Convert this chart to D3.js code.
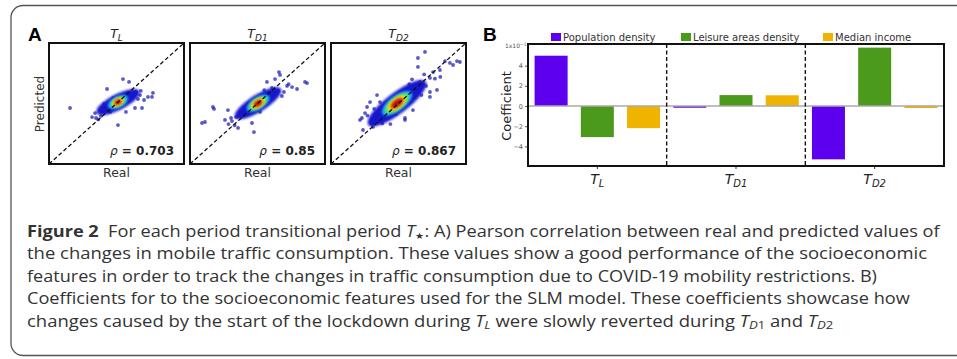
<!DOCTYPE html>
<html><head><meta charset="utf-8">
<script src="https://cdn.jsdelivr.net/npm/d3@7"></script>
<style>html,body{margin:0;padding:0;background:#fff;} svg{display:block;}</style>
</head><body><svg id="c" width="957" height="359"></svg>
<script>
// ---------------- data ----------------
const periods = ["L", "D1", "D2"];
const rhoValues = ["0.703", "0.85", "0.867"];
const features = ["Population density", "Leisure areas density", "Median income"];
const coefPopulation = [4.98, -0.17, -5.28];
const coefLeisure = [-3.08, 1.08, 5.78];
const coefIncome = [-2.19, 1.06, -0.2];
const coefTicks = [-4, -2, 0, 2, 4];
// density summaries of the real/predicted clouds (real & predicted units, 0-100)
const densityCentre = [[51.1, 51.2], [50.4, 50.2], [48.9, 50.2]];
const densityAngle = [27, 32, 37];
const densityTL = [[17.8, 5.9], [8.1, 4.1], [5.9, 3.3], [4.4, 2.6], [3.3, 2.1], [2.2, 1.5]];
const densityTD1 = [[20, 6.3], [9.6, 4.4], [7.4, 3.7], [5.6, 3.0], [4.1, 2.4], [3.0, 1.7]];
const densityTD2 = [[26.7, 7.8], [13.3, 5.6], [10.4, 4.7], [8.1, 3.7], [6.3, 3.0], [4.8, 2.2]];
// sparse points (real, predicted)
const pointsTL = [[15.6,46.3],[54.8,70.2],[43.0,62.0],[59.3,67.8],[77.0,58.7],[73.3,55.4],[76.3,55.4],[51.1,32.2],[68.9,46.3],[63.7,46.3],[64.4,59.5],[62.2,57.0],
  [31.9,38.8],[34.8,38.0],[38.5,39.7],[34.1,42.1],[40.0,44.6],[67.4,57.0],[65.9,53.7],[70.4,52.9],[61.5,56.2],[58.5,58.7],[45.2,43.0],[40.7,49.6],[57.0,43.0],[36.5,36.8],[68.0,60.5],[47.5,54.5]];
const pointsTD1 = [[17.0,47.1],[17.8,45.5],[8.9,33.9],[11.1,34.7],[25.9,36.4],[28.1,44.6],[30.4,38.0],[35.6,29.8],[47.4,26.4],[45.9,33.9],[65.9,76.0],[66.7,73.6],
  [75.6,63.6],[79.3,62.0],[85.2,67.8],[86.7,66.9],[57.0,67.8],[63.0,70.2],[71.9,64.5],[69.6,59.5],[31.1,35.5],[34.1,38.8],[38.5,39.7],[37.0,43.0],[60.7,62.8],[65.2,60.3],
  [68.1,56.2],[59.3,56.2],[51.9,43.0],[43.0,49.6],[28.5,33.0],[33.0,32.0],[73.0,66.0],[55.0,61.0]];
const pointsTD2 = [[69.6,92.6],[88.1,83.5],[93.3,85.1],[84.4,85.1],[64.4,87.6],[73.3,71.1],[80.7,77.7],[78.5,61.2],[73.3,55.4],[60.7,44.6],[54.8,38.0],[21.5,36.4],
  [26.7,47.1],[28.9,51.2],[34.1,57.0],[36.3,51.2],[23.7,28.1],[31.1,30.6],[95.5,84.3],[90.4,81.8],[64.4,80.2],[75.6,76.0],[62.2,62.8],[54.8,36.4],[22.9,38.0],[25.2,42.1],
  [30.4,33.1],[34.8,36.4],[42.2,38.0],[39.3,44.6],[65.9,67.8],[70.4,64.5],[73.3,59.5],[63.0,61.2],[58.5,52.9],[48.1,41.3],[27.0,40.0],[32.0,45.5],[69.0,74.0],[77.0,70.5],
  [60.0,70.0],[67.0,57.0],[44.0,33.0],[38.0,33.5],[81.0,72.0],[58.0,66.0]];
const densityLevels = [densityTL, densityTD1, densityTD2];
const pointSets = [pointsTL, pointsTD1, pointsTD2];

// ---------------- drawing ----------------
const svg = d3.select("#c");
const FONT = "'DejaVu Sans', sans-serif";
const defs = svg.append("defs");
defs.append("filter").attr("id", "blur2").attr("x", "-50%").attr("y", "-50%").attr("width", "200%").attr("height", "200%")
  .append("feGaussianBlur").attr("stdDeviation", 1.1);
defs.append("filter").attr("id", "blur1").attr("x", "-50%").attr("y", "-50%").attr("width", "200%").attr("height", "200%")
  .append("feGaussianBlur").attr("stdDeviation", 0.8);

// outer frame
svg.append("rect").attr("x", 11).attr("y", 5.5).attr("width", 1000).attr("height", 350)
  .attr("rx", 12).attr("fill", "none").attr("stroke", "#555").attr("stroke-width", 1.3);

// ---- Panel A ----
svg.append("text").attr("x", 28).attr("y", 41).attr("font-family", "'Liberation Sans', Arial, sans-serif")
  .attr("font-weight", "bold").attr("font-size", 19).text("A");

const lefts = [49, 190, 331], W = 135, aTop = 43, aBottom = 164;
const levelColors = ["#1818cc", "#20b8f2", "#5ee05e", "#f5e51a", "#ff7a10", "#b80c0c"];
const yA = d3.scaleLinear().domain([0, 100]).range([aBottom, aTop]);

periods.forEach((p, i) => {
  const xA = d3.scaleLinear().domain([0, 100]).range([lefts[i], lefts[i] + W]);
  const g = svg.append("g");
  const kx = (xA(100) - xA(0)) / 100;
  g.selectAll("circle.pt").data(pointSets[i]).join("circle").attr("class", "pt")
    .attr("cx", d => xA(d[0])).attr("cy", d => yA(d[1])).attr("r", 1.9)
    .attr("fill", "#2222b4").attr("fill-opacity", 0.75);
  const [cx, cy] = densityCentre[i];
  const dg = g.append("g").attr("transform", `translate(${xA(cx)},${yA(cy)}) rotate(${-densityAngle[i]})`);
  dg.selectAll("ellipse").data(densityLevels[i]).join("ellipse")
    .attr("rx", d => d[0] * kx).attr("ry", d => d[1] * kx)
    .attr("fill", (d, j) => levelColors[j])
    .attr("filter", (d, j) => j === 0 ? "url(#blur2)" : "url(#blur1)");
  g.append("line").attr("x1", xA(0)).attr("y1", yA(0)).attr("x2", xA(100)).attr("y2", yA(100))
    .attr("stroke", "#111").attr("stroke-width", 1.3).attr("stroke-dasharray", "4,2.5");
  g.append("rect").attr("x", xA(0)).attr("y", aTop).attr("width", W).attr("height", aBottom - aTop)
    .attr("fill", "none").attr("stroke", "#111").attr("stroke-width", 2);
  const t = g.append("text").attr("x", xA(50)).attr("y", 38).attr("text-anchor", "middle")
    .attr("font-family", FONT).attr("font-size", 12.5).attr("fill", "#222");
  t.append("tspan").attr("font-style", "italic").text("T");
  t.append("tspan").attr("font-style", "italic").attr("font-size", 9).attr("dy", 3).text(p);
  const r = g.append("text").attr("x", xA(100) - 10).attr("y", 155).attr("text-anchor", "end")
    .attr("font-family", FONT).attr("font-size", 12).attr("fill", "#222");
  r.append("tspan").attr("font-style", "italic").text("ρ");
  r.append("tspan").attr("font-weight", "bold").text(" = " + rhoValues[i]);
  g.append("text").attr("x", xA(50)).attr("y", 177).attr("text-anchor", "middle")
    .attr("font-family", FONT).attr("font-size", 12.5).attr("fill", "#333").text("Real");
});
svg.append("text").attr("transform", "translate(44,104) rotate(-90)").attr("text-anchor", "middle")
  .attr("font-family", FONT).attr("font-size", 12).attr("fill", "#333").text("Predicted");

// ---- Panel B ----
svg.append("text").attr("x", 483).attr("y", 41).attr("font-family", "'Liberation Sans', Arial, sans-serif")
  .attr("font-weight", "bold").attr("font-size", 19).text("B");
const bx0 = 528, bx1 = 944, by0 = 44, by1 = 166;
const featColors = ["#5c00ee", "#4c9a1c", "#efb300"];
const xB = d3.scaleBand().domain(periods).range([bx0, bx1]);
const xF = d3.scaleBand().domain(features).range([0, xB.bandwidth()]).paddingInner(0.286).paddingOuter(0.143);
const yB = d3.scaleLinear().domain([-5.94, 6.14]).range([by1, by0]);
const seriesVals = [coefPopulation, coefLeisure, coefIncome];
const barData = [];
periods.forEach((p, i) => features.forEach((f, j) => barData.push({ p, f, j, v: seriesVals[j][i] })));

const gB = svg.append("g");
gB.selectAll("rect.bar").data(barData).join("rect").attr("class", "bar")
  .attr("x", d => xB(d.p) + xF(d.f)).attr("width", xF.bandwidth())
  .attr("y", d => yB(Math.max(0, d.v))).attr("height", d => Math.abs(yB(d.v) - yB(0)))
  .attr("fill", d => featColors[d.j]);
gB.append("line").attr("x1", bx0).attr("x2", bx1).attr("y1", yB(0)).attr("y2", yB(0))
  .attr("stroke", "#aaa").attr("stroke-width", 1.5);
gB.selectAll("line.sep").data(periods.slice(1)).join("line").attr("class", "sep")
  .attr("x1", d => xB(d)).attr("x2", d => xB(d)).attr("y1", by0).attr("y2", by1)
  .attr("stroke", "#111").attr("stroke-width", 1.4).attr("stroke-dasharray", "4,2.5");
const ax = gB.append("g").attr("transform", `translate(${bx0},0)`)
  .call(d3.axisLeft(yB).tickValues(coefTicks).tickSize(3).tickPadding(2)
    .tickFormat(d => d < 0 ? "−" + Math.abs(d) : String(d)));
ax.select(".domain").remove();
ax.selectAll("text").attr("font-family", FONT).attr("font-size", 6.5).attr("fill", "#555");
ax.selectAll("line").attr("stroke", "#555");
const axx = gB.append("g").attr("transform", `translate(0,${by1})`)
  .call(d3.axisBottom(xB).tickSize(3).tickFormat(""));
axx.select(".domain").remove();
axx.selectAll("line").attr("stroke", "#333");
periods.forEach(p => {
  const t = gB.append("text").attr("x", xB(p) + xB.bandwidth() / 2).attr("y", 184).attr("text-anchor", "middle")
    .attr("font-family", FONT).attr("font-size", 14).attr("fill", "#222");
  t.append("tspan").attr("font-style", "italic").text("T");
  t.append("tspan").attr("font-style", "italic").attr("font-size", 10).attr("dy", 3).text(p);
});
gB.append("rect").attr("x", bx0).attr("y", by0).attr("width", bx1 - bx0).attr("height", by1 - by0)
  .attr("fill", "none").attr("stroke", "#111").attr("stroke-width", 2);
const mt = gB.append("text").attr("x", bx0 - 23).attr("y", 48).attr("font-family", FONT).attr("font-size", 6).attr("fill", "#555");
mt.append("tspan").text("1x10");
mt.append("tspan").attr("dy", -2).attr("font-size", 4.5).text("−1");
svg.append("text").attr("transform", "translate(511,106) rotate(-90)").attr("text-anchor", "middle")
  .attr("font-family", FONT).attr("font-size", 13).attr("fill", "#222").text("Coefficient");
const legX = [551, 681, 823];
features.forEach((f, j) => {
  svg.append("rect").attr("x", legX[j]).attr("y", 33).attr("width", 10).attr("height", 8).attr("fill", featColors[j]);
  svg.append("text").attr("x", legX[j] + 12).attr("y", 41).attr("font-family", FONT).attr("font-size", 10)
    .attr("fill", "#333").text(f);
});

// ---- Caption ----
const CF = "'Open Sans', 'Noto Sans', sans-serif";
const capLines = [
  [["b", "Figure 2"], ["n", "  For each period transitional period "], ["i", "T"], ["sub", "★"], ["n", ": A) Pearson correlation between real and predicted values of"]],
  [["n", "the changes in mobile traffic consumption. These values show a good performance of the socioeconomic"]],
  [["n", "features in order to track the changes in traffic consumption due to COVID-19 mobility restrictions. B)"]],
  [["n", "Coefficients for to the socioeconomic features used for the SLM model. These coefficients showcase how"]],
  [["n", "changes caused by the start of the lockdown during "], ["i", "T"], ["subi", "L"], ["n", " were slowly reverted during "], ["i", "T"], ["subi", "D"], ["sub", "1"], ["n", " and "], ["i", "T"], ["subi", "D"], ["sub", "2"]]
];
const capEnds = [941, 927, 877, 911, 833];
capLines.forEach((parts, k) => {
  const y = 236.5 + k * 22.5;
  const t = svg.append("text").attr("x", 0).attr("y", 0).attr("font-family", CF).attr("font-size", 16.2)
    .attr("fill", "#333").style("white-space", "pre");
  let sub = false;
  parts.forEach(([kind, txt]) => {
    const s = t.append("tspan").text(txt);
    const isSub = kind === "sub" || kind === "subi";
    if (isSub && !sub) s.attr("dy", 2.5);
    if (!isSub && sub) s.attr("dy", -2.5);
    sub = isSub;
    if (kind === "b") s.attr("font-weight", "bold");
    if (kind === "i" || kind === "subi") s.attr("font-style", "italic");
    if (isSub) s.attr("font-size", kind === "sub" && txt === "★" ? 9 : 11.5);
  });
  const w = t.node().getBBox().width;
  const sx = (capEnds[k] - 27) / w;
  t.attr("transform", `translate(27,${y}) scale(${sx},1)`);
});
</script></body></html>
